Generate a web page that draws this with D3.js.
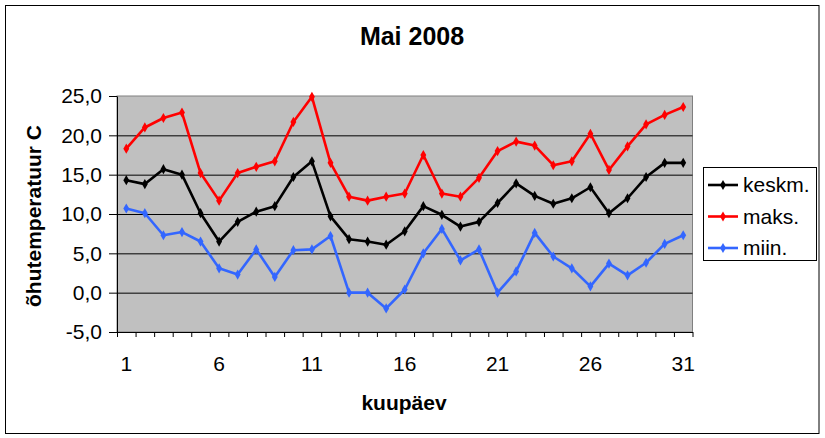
<!DOCTYPE html>
<html>
<head>
<meta charset="utf-8">
<script src="https://cdn.jsdelivr.net/npm/d3@7"></script>
<style>
  body { margin: 0; background: #fff; }
  svg { font-family: Arial, "Liberation Sans", sans-serif; }
</style>
</head>
<body>
<div id="chart"></div>
<script>
// Days of May 2008
const days = [1, 2, 3, 4, 5, 6, 7, 8, 9, 10, 11, 12, 13, 14, 15, 16,
  17, 18, 19, 20, 21, 22, 23, 24, 25, 26, 27, 28, 29, 30, 31];
const dayLabels = [1, 6, 11, 16, 21, 26, 31];

// air temperatures
const keskm = [14.3, 13.8, 15.7, 15.0, 10.1, 6.5, 9.0, 10.3, 11.0, 14.7, 16.7, 9.7,
  6.8, 6.5, 6.1, 7.8, 11.0, 9.9, 8.4, 9.0, 11.4, 13.9, 12.3, 11.3, 12.0, 13.4,
  10.1, 12.0, 14.7, 16.5, 16.5];
const maks = [18.3, 21.0, 22.2, 22.9, 15.2, 11.7, 15.2, 16.0, 16.7, 21.7, 24.9, 16.5,
  12.2, 11.7, 12.2, 12.6, 17.5, 12.6, 12.2, 14.6, 18.0, 19.2, 18.7, 16.2, 16.7, 20.2,
  15.6, 18.6, 21.4, 22.6, 23.6];
const miin = [10.7, 10.1, 7.3, 7.7, 6.5, 3.1, 2.3, 5.5, 2.0, 5.4, 5.5, 7.2,
  0.0, 0.0, -2.0, 0.4, 5.0, 8.1, 4.1, 5.5, 0.0, 2.7, 7.6, 4.6, 3.1, 0.8,
  3.7, 2.2, 3.8, 6.2, 7.3];

const yTicks = [-5, 0, 5, 10, 15, 20, 25];
const gridValues = [0, 5, 10, 15, 20];

const seriesNames = ['keskm.', 'maks.', 'miin.'];
const seriesColors = ['#000000', '#ff0000', '#3366ff'];

const series = [keskm, maks, miin].map((values, i) => ({
  name: seriesNames[i],
  color: seriesColors[i],
  values: values.map((v, j) => ({ day: days[j], value: v })),
}));

const width = 825;
const height = 438;
const plot = {
  left: 117, right: 692.5, top: 96, bottom: 332,
};

const svg = d3.select('#chart').append('svg')
  .attr('width', width)
  .attr('height', height);

// outer frame
svg.append('rect')
  .attr('x', 5.5).attr('y', 5.5)
  .attr('width', 813.5).attr('height', 428)
  .attr('fill', '#fff')
  .attr('stroke', '#000');

const xScale = d3.scaleBand()
  .domain(days)
  .range([plot.left, plot.right]);

const xEdges = d3.scaleLinear()
  .domain([0.5, 31.5])
  .range([plot.left, plot.right]);

const yScale = d3.scaleLinear()
  .domain([-5, 25])
  .range([plot.bottom, plot.top]);

const locale = d3.formatLocale({
  decimal: ',', thousands: ' ', grouping: [3], currency: ['', ' €'], minus: '-',
});
const fmt = locale.format('.1f');

// plot area
svg.append('rect')
  .attr('x', plot.left).attr('y', plot.top)
  .attr('width', plot.right - plot.left)
  .attr('height', plot.bottom - plot.top)
  .attr('fill', '#c0c0c0')
  .attr('stroke', '#808080');

// gridlines
svg.append('g')
  .attr('transform', `translate(${plot.left},0)`)
  .call(d3.axisLeft(yScale).tickValues(gridValues)
    .tickSize(-(plot.right - plot.left)).tickFormat(''))
  .call((g) => g.select('.domain').remove())
  .selectAll('line')
  .attr('stroke', '#000');

// y axis
const yAxisGroup = svg.append('g')
  .attr('transform', `translate(${plot.left},0)`)
  .call(d3.axisLeft(yScale).tickValues(yTicks).tickFormat(fmt)
    .tickSizeInner(8).tickSizeOuter(0).tickPadding(7));
yAxisGroup.selectAll('text')
  .attr('font-size', 21)
  .attr('font-family', 'Arial, "Liberation Sans", sans-serif')
  .attr('fill', '#000');
yAxisGroup.selectAll('line, path').attr('stroke', '#000');

// x axis tick marks between days
const xAxisGroup = svg.append('g')
  .attr('transform', `translate(0,${plot.bottom})`)
  .call(d3.axisBottom(xEdges).tickValues(d3.range(0.5, 32, 1))
    .tickFormat('').tickSizeInner(5).tickSizeOuter(0));
xAxisGroup.selectAll('line, path').attr('stroke', '#000');

// x labels
const xLabelGroup = svg.append('g')
  .attr('transform', `translate(0,${plot.bottom})`)
  .call(d3.axisBottom(xScale).tickValues(dayLabels).tickSize(0).tickPadding(24));
xLabelGroup.select('.domain').remove();
xLabelGroup.selectAll('text')
  .attr('font-size', 21)
  .attr('font-family', 'Arial, "Liberation Sans", sans-serif')
  .attr('fill', '#000');

// lines
const line = d3.line()
  .x((d) => xScale(d.day) + xScale.bandwidth() / 2)
  .y((d) => yScale(d.value));

const diamond = d3.symbol().type(d3.symbolDiamond).size(30);

const seriesGroup = svg.selectAll('.series')
  .data(series)
  .join('g')
  .attr('class', 'series');

seriesGroup.append('path')
  .attr('d', (d) => line(d.values))
  .attr('fill', 'none')
  .attr('stroke', (d) => d.color)
  .attr('stroke-width', 2.6)
  .attr('stroke-linejoin', 'round');

seriesGroup.each(function (s) {
  d3.select(this).selectAll('.marker')
    .data(s.values)
    .join('path')
    .attr('class', 'marker')
    .attr('d', diamond)
    .attr('transform', (d) => `translate(${xScale(d.day) + xScale.bandwidth() / 2},${yScale(d.value)})`)
    .attr('fill', s.color);
});

// titles
svg.append('text')
  .attr('x', 412).attr('y', 45)
  .attr('text-anchor', 'middle')
  .attr('font-size', 25)
  .attr('font-weight', 'bold')
  .text('Mai 2008');

svg.append('text')
  .attr('x', 404).attr('y', 410)
  .attr('text-anchor', 'middle')
  .attr('font-size', 21)
  .attr('font-weight', 'bold')
  .text('kuupäev');

svg.append('text')
  .attr('transform', 'translate(41,216) rotate(-90)')
  .attr('text-anchor', 'middle')
  .attr('font-size', 21)
  .attr('font-weight', 'bold')
  .text('õhutemperatuur C');

// legend
const legend = svg.append('g')
  .attr('transform', 'translate(703,167)');

legend.append('rect')
  .attr('x', 0.5).attr('y', 0.5)
  .attr('width', 113).attr('height', 93)
  .attr('fill', '#fff')
  .attr('stroke', '#000');

const legendItem = legend.selectAll('.legend-item')
  .data(series)
  .join('g')
  .attr('class', 'legend-item')
  .attr('transform', (d, i) => `translate(0,${18 + i * 31.5})`);

legendItem.append('line')
  .attr('x1', 5).attr('x2', 35)
  .attr('stroke', (d) => d.color)
  .attr('stroke-width', 2.6);

legendItem.append('path')
  .attr('d', diamond)
  .attr('transform', 'translate(20,0)')
  .attr('fill', (d) => d.color);

legendItem.append('text')
  .attr('x', 40).attr('dy', '0.35em')
  .attr('font-size', 21)
  .text((d) => d.name);
</script>
</body>
</html>
